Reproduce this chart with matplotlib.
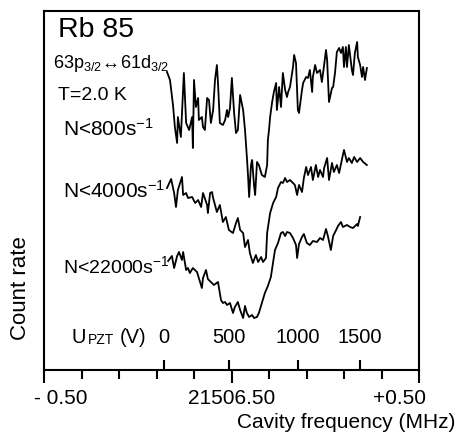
import numpy as np
import matplotlib
matplotlib.use("Agg")
import matplotlib.pyplot as plt
import matplotlib.transforms as mtransforms

plt.rcParams['font.family'] = ['Liberation Sans', 'DejaVu Sans']
plt.rcParams['mathtext.fontset'] = 'custom'
plt.rcParams['mathtext.rm'] = 'Liberation Sans'
plt.rcParams['mathtext.it'] = 'Liberation Sans'

# cavity frequency offset from 21506.50 MHz, count rate in arbitrary units
freq_800 = [-0.172, -0.164, -0.156, -0.151, -0.145, -0.143, -0.135, -0.127, -0.121, -0.113,
            -0.105, -0.103, -0.100, -0.095, -0.089, -0.087, -0.079, -0.076, -0.071, -0.065,
            -0.060, -0.055, -0.049, -0.044, -0.039, -0.036, -0.031, -0.023, -0.017, -0.012,
            -0.009, -0.004, 0.001, 0.007, 0.012, 0.017, 0.023, 0.031, 0.036, 0.041,
            0.044, 0.047, 0.052, 0.055, 0.060, 0.063, 0.068, 0.073, 0.081, 0.089,
            0.095, 0.097, 0.100, 0.103, 0.108, 0.113, 0.119, 0.121, 0.127, 0.132,
            0.137, 0.143, 0.148, 0.151, 0.156, 0.164, 0.167, 0.172, 0.177, 0.180,
            0.188, 0.191, 0.199, 0.204, 0.209, 0.215, 0.217, 0.223, 0.228, 0.236,
            0.241, 0.247, 0.252, 0.255, 0.260, 0.268, 0.271, 0.276, 0.281, 0.287,
            0.292, 0.297, 0.300, 0.305, 0.308, 0.313, 0.321, 0.324, 0.329, 0.335,
            0.337, 0.343, 0.348, 0.351, 0.356, 0.361]
counts_800 = [298, 290, 265, 243, 227, 253, 233, 297, 247, 240,
              253, 222, 290, 263, 272, 250, 253, 243, 240, 272,
              270, 247, 260, 290, 305, 287, 247, 245, 250, 260,
              253, 262, 292, 257, 237, 240, 275, 260, 240, 213,
              195, 173, 205, 210, 185, 175, 208, 205, 195, 193,
              205, 230, 240, 253, 267, 278, 287, 260, 283, 263,
              297, 280, 273, 278, 283, 303, 315, 307, 260, 257,
              280, 287, 293, 292, 300, 278, 293, 305, 297, 300,
              288, 305, 320, 310, 268, 282, 283, 297, 318, 322,
              317, 323, 303, 323, 303, 325, 300, 295, 317, 328,
              313, 305, 293, 303, 290, 302]

freq_4000 = [-0.172, -0.161, -0.153, -0.148, -0.143, -0.132, -0.129, -0.121, -0.116, -0.105,
             -0.097, -0.089, -0.081, -0.076, -0.065, -0.063, -0.057, -0.052, -0.049, -0.039,
             -0.031, -0.023, -0.015, -0.007, 0.004, 0.012, 0.017, 0.023, 0.031, 0.036,
             0.044, 0.049, 0.057, 0.065, 0.071, 0.079, 0.084, 0.092, 0.095, 0.103,
             0.111, 0.119, 0.124, 0.132, 0.137, 0.143, 0.148, 0.156, 0.164, 0.169,
             0.175, 0.180, 0.188, 0.193, 0.199, 0.204, 0.212, 0.217, 0.225, 0.231,
             0.236, 0.244, 0.247, 0.255, 0.260, 0.268, 0.273, 0.281, 0.287, 0.297,
             0.300, 0.308, 0.313, 0.321, 0.327, 0.335, 0.343, 0.351, 0.361]
counts_4000 = [182, 191, 177, 163, 180, 193, 175, 177, 172, 173,
               167, 170, 163, 177, 165, 157, 177, 178, 172, 158,
               165, 148, 153, 140, 137, 147, 152, 140, 137, 123,
               130, 117, 107, 115, 108, 113, 108, 112, 137, 157,
               167, 173, 182, 188, 187, 192, 188, 190, 187, 185,
               175, 185, 178, 192, 203, 195, 203, 190, 205, 193,
               200, 193, 202, 212, 190, 207, 198, 205, 197, 215,
               220, 208, 212, 207, 213, 208, 212, 208, 205]

freq_22000 = [-0.169, -0.159, -0.153, -0.145, -0.140, -0.132, -0.129, -0.121, -0.116, -0.111,
              -0.103, -0.092, -0.079, -0.076, -0.068, -0.063, -0.055, -0.047, -0.036, -0.028,
              -0.023, -0.017, -0.012, -0.004, 0.004, 0.009, 0.017, 0.023, 0.031, 0.036,
              0.041, 0.047, 0.055, 0.060, 0.068, 0.073, 0.081, 0.089, 0.097, 0.105,
              0.111, 0.116, 0.124, 0.132, 0.137, 0.143, 0.148, 0.156, 0.164, 0.172,
              0.175, 0.180, 0.188, 0.193, 0.201, 0.209, 0.217, 0.228, 0.236, 0.244,
              0.252, 0.257, 0.265, 0.271, 0.279, 0.284, 0.292, 0.297, 0.308, 0.316,
              0.324, 0.335, 0.337, 0.343]
counts_22000 = [109, 114, 102, 114, 118, 110, 118, 100, 102, 97,
                102, 98, 82, 92, 100, 91, 88, 85, 88, 70,
                67, 68, 65, 67, 57, 63, 68, 60, 52, 64,
                57, 53, 55, 52, 53, 57, 67, 77, 84, 93,
                108, 120, 127, 137, 138, 134, 138, 137, 132, 125,
                112, 126, 133, 136, 127, 125, 129, 128, 132, 130,
                141, 134, 120, 134, 140, 144, 148, 143, 145, 143,
                142, 146, 144, 153]

# piezo voltage scale (nonlinear) against cavity frequency
upzt_volts = [0, 500, 1000, 1500]
upzt_freq = [-0.180, -0.007, 0.177, 0.343]

freq_ticks = [-0.5, 0.0, 0.5]
freq_labels = ['- 0.50', '21506.50', '+0.50']

fig = plt.figure(figsize=(4.69, 4.32), dpi=100)
ax = fig.add_axes([44 / 469, 62 / 432, 375 / 469, 359 / 432])

for f, c in [(freq_800, counts_800), (freq_4000, counts_4000), (freq_22000, counts_22000)]:
    ax.plot(f, c, color='black', lw=1.3)

ax.set_xlim(-0.5, 0.5)
ax.set_ylim(0, 359)
ax.set_yticks([])
for s in ax.spines.values():
    s.set_linewidth(1.5)

ax.set_xticks(freq_ticks)
ax.set_xticklabels(freq_labels, fontsize=15)
ax.set_xticks(np.arange(-0.4, 0.45, 0.1), minor=True)
ax.tick_params(axis='x', which='major', direction='out', length=9, width=1.5, pad=5)
ax.tick_params(axis='x', which='minor', direction='out', length=6.5, width=1.5)
labs = ax.get_xticklabels()
labs[0].set_ha('left')
labs[0].set_transform(labs[0].get_transform() +
                      mtransforms.ScaledTranslation(-10 / 100, 0, fig.dpi_scale_trans))
labs[2].set_ha('right')
labs[2].set_transform(labs[2].get_transform() +
                      mtransforms.ScaledTranslation(7 / 100, 0, fig.dpi_scale_trans))

# inward piezo voltage ticks and labels
tr = ax.get_xaxis_transform()
ax.vlines(upzt_freq, 0, 0.028, transform=tr, color='black', lw=1.5)
for v, f in zip(upzt_volts, upzt_freq):
    ax.text(f, 0.063, str(v), transform=tr, ha='center', va='bottom', fontsize=14.5)
ax.text(27 / 375, 0.063, 'U', transform=ax.transAxes, ha='left', va='bottom', fontsize=14.5)
ax.text(44 / 375, 0.063, 'PZT', transform=ax.transAxes, ha='left', va='bottom', fontsize=10)
ax.text(76 / 375, 0.063, '(V)', transform=ax.transAxes, ha='left', va='bottom', fontsize=14.5)

ax.text(0.038, 0.948, 'Rb 85', transform=ax.transAxes, ha='left', va='center', fontsize=20.5)
ax.text(0.024, 0.855, r'63p$_{3/2}\!{\leftrightarrow}\!$61d$_{3/2}$', transform=ax.transAxes,
        ha='left', va='center', fontsize=13)
ax.text(0.038, 0.765, 'T=2.0 K', transform=ax.transAxes, ha='left', va='center', fontsize=14)
ax.text(0.05, 0.672, r'N<800s$^{-1}$', transform=ax.transAxes, ha='left', va='center', fontsize=15)
ax.text(0.05, 0.5, r'N<4000s$^{-1}$', transform=ax.transAxes, ha='left', va='center', fontsize=15)
ax.text(0.05, 0.29, r'N<22000s$^{-1}$', transform=ax.transAxes, ha='left', va='center', fontsize=14)

fig.text(21 / 469, 1 - 288 / 432, 'Count rate', rotation=90, ha='center', va='center', fontsize=16)
fig.text(455 / 469, 1 - 422 / 432, 'Cavity frequency (MHz)', ha='right', va='center', fontsize=15)

fig.savefig('out.png', dpi=100)
